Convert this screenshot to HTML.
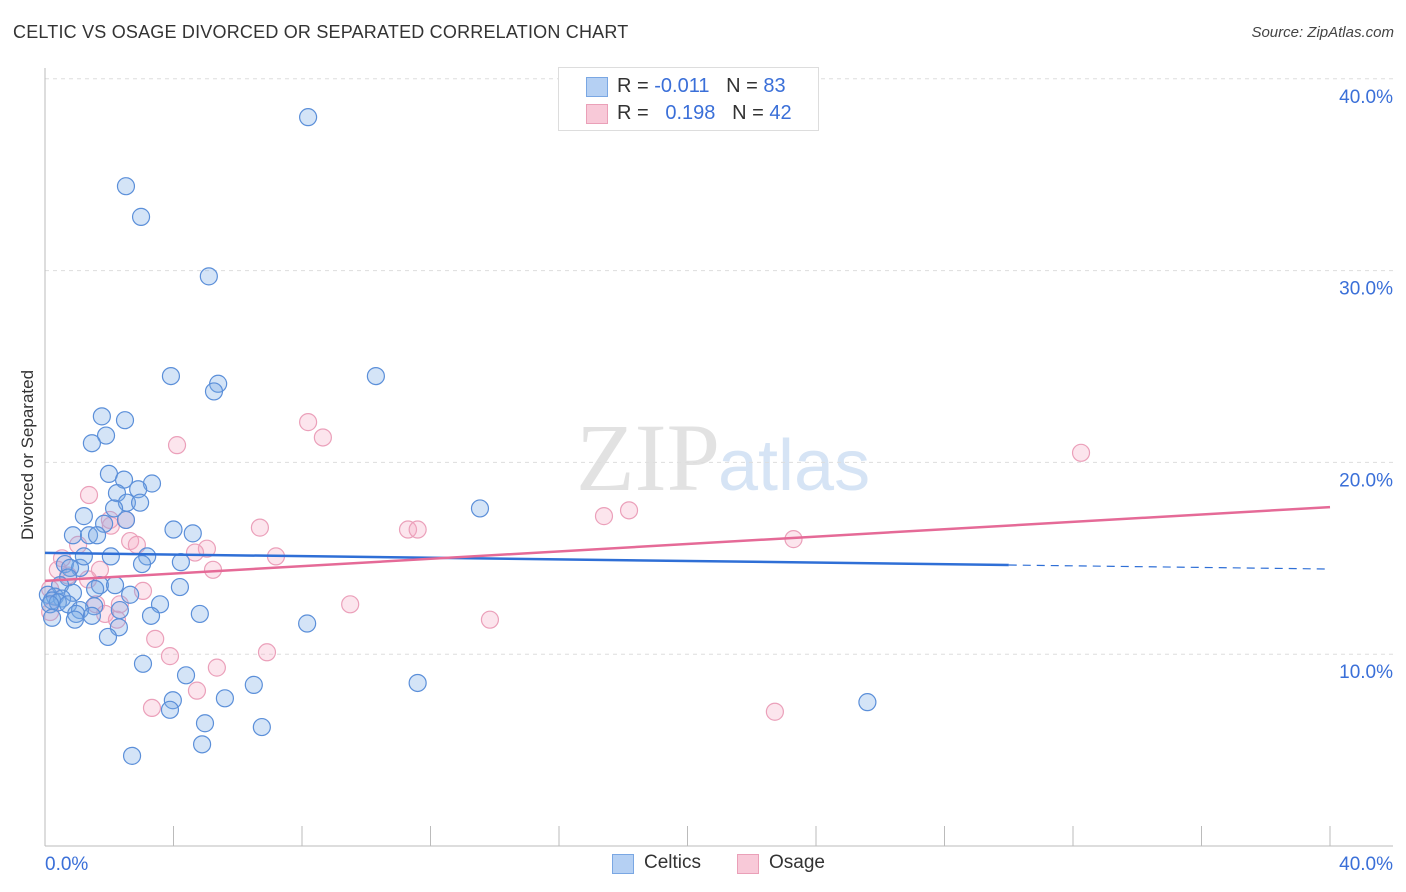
<!DOCTYPE html>
<html><head><meta charset="utf-8"><style>
body{margin:0;background:#fff;font-family:"Liberation Sans",sans-serif;}
#wrap{position:relative;width:1406px;height:892px;overflow:hidden;}
.t{position:absolute;white-space:nowrap;}
</style></head><body>
<div id="wrap">
<div class="t" style="left:13px;top:22px;font-size:18px;color:#333;letter-spacing:0.2px">CELTIC VS OSAGE DIVORCED OR SEPARATED CORRELATION CHART</div>
<div class="t" style="right:12px;top:24px;font-size:15px;color:#444;font-style:italic">Source: ZipAtlas.com</div>
<div class="t" style="left:28px;top:455px;font-size:17px;color:#333;transform:translate(-50%,-50%) rotate(-90deg)">Divorced or Separated</div>
<svg id="plot" width="1406" height="892" style="position:absolute;left:0;top:0">
<text x="720" y="490" text-anchor="end" font-family="Liberation Serif" font-size="96" fill="#e2e2e2">ZIP</text>
<text x="718" y="490" font-family="Liberation Sans" font-size="72" fill="#d6e4f5">atlas</text>
</svg>
<div style="position:absolute;left:558px;top:67px;width:259px;height:62px;border:1px solid #ddd;background:#fff;font-size:20px;">
<div style="position:absolute;left:27px;top:9px;width:20px;height:18px;background:#b5d0f3;border:1px solid #7aa7e3"></div>
<div class="t" style="left:58px;top:7px;color:#333">R = <span style="color:#3a6fd8">-0.011</span>&nbsp;&nbsp;&nbsp;N = <span style="color:#3a6fd8">83</span></div>
<div style="position:absolute;left:27px;top:36px;width:20px;height:18px;background:#f8c9d8;border:1px solid #eaa0b8"></div>
<div class="t" style="left:58px;top:34px;color:#333">R = &nbsp;&nbsp;<span style="color:#3a6fd8">0.198</span>&nbsp;&nbsp;&nbsp;N = <span style="color:#3a6fd8">42</span></div>
</div>
<div style="position:absolute;left:612px;top:852px;font-size:19px;color:#333">
<div style="position:absolute;left:0;top:2px;width:20px;height:18px;background:#b5d0f3;border:1px solid #7aa7e3"></div>
<div class="t" style="left:32px;top:0">Celtics</div>
<div style="position:absolute;left:125px;top:2px;width:20px;height:18px;background:#f8c9d8;border:1px solid #eaa0b8"></div>
<div class="t" style="left:157px;top:0">Osage</div>
</div>
</div>
<script>
const yTicks=[10,20,30,40];
const yTickLabels=["10.0%","20.0%","30.0%","40.0%"];
const xTickLabels=["0.0%","40.0%"];
const celticsX=[8.19,2.52,2.99,5.1,3.92,10.3,5.39,5.26,1.77,2.49,1.9,1.46,1.99,2.46,3.33,2.9,2.24,2.55,2.96,2.15,13.54,1.21,2.52,1.84,4.0,4.6,0.87,1.37,1.62,2.05,3.18,4.23,3.02,0.62,1.09,0.78,1.21,0.72,0.47,1.71,2.18,4.2,1.56,0.87,2.65,0.09,0.31,0.53,0.22,0.40,0.72,0.16,3.58,1.53,1.09,2.33,4.82,3.3,0.97,1.46,0.22,0.93,2.3,8.16,1.96,3.05,4.39,6.5,11.6,5.6,3.98,25.6,3.89,4.98,6.75,4.89,2.71];
const celticsY=[38.0,34.4,32.8,29.7,24.5,24.5,24.1,23.7,22.4,22.2,21.4,21.0,19.4,19.1,18.9,18.6,18.4,17.9,17.9,17.6,17.6,17.2,17.0,16.8,16.5,16.3,16.2,16.2,16.2,15.1,15.1,14.8,14.7,14.7,14.5,14.5,15.1,14.0,13.6,13.6,13.6,13.5,13.4,13.2,13.1,13.1,13.0,12.9,12.8,12.7,12.6,12.6,12.6,12.5,12.3,12.3,12.1,12.0,12.1,12.0,11.9,11.8,11.4,11.6,10.9,9.5,8.9,8.4,8.5,7.7,7.6,7.5,7.1,6.4,6.2,5.3,4.7];
const osageX=[8.19,8.65,4.11,32.25,1.37,2.52,2.05,18.18,17.4,6.69,11.3,11.6,23.3,2.65,2.86,1.03,5.04,4.67,0.53,7.19,1.71,5.23,0.4,0.72,0.16,3.05,1.59,2.33,9.5,0.16,1.87,2.24,13.85,3.43,3.89,6.91,5.35,4.73,3.33,22.72,2.02,1.34];
const osageY=[22.1,21.3,20.9,20.5,18.3,17.0,16.7,17.5,17.2,16.6,16.5,16.5,16.0,15.9,15.7,15.7,15.5,15.3,15.0,15.1,14.4,14.4,14.4,14.1,13.4,13.3,12.6,12.6,12.6,12.2,12.1,11.8,11.8,10.8,9.9,10.1,9.3,8.1,7.2,7.0,17.0,13.9];
const celticsTrend=[15.28,14.44];
const osageTrend=[13.82,17.67];
const NS="http://www.w3.org/2000/svg";
const svg=document.getElementById('plot');
const X=v=>45+v*32.125, Y=v=>846-v*19.18;
function mk(t,a){const e=document.createElementNS(NS,t);for(const k in a)e.setAttribute(k,a[k]);svg.appendChild(e);return e;}
yTicks.forEach((v,i)=>{
 const g=mk('line',{x1:45,x2:1393,y1:Y(v),y2:Y(v),stroke:'#ddd','stroke-dasharray':'4,4'});
 
 
 const t=mk('text',{x:1393,y:Y(v)+24,'text-anchor':'end','font-size':19,fill:'#3a6fd8','font-family':'Liberation Sans'});
 t.textContent=yTickLabels[i];
 
 
});
let a=mk('line',{x1:45,x2:45,y1:68,y2:846,stroke:'#bbb'});


a=mk('line',{x1:45,x2:1393,y1:846,y2:846,stroke:'#bbb'});


for(let i=1;i<=10;i++){const tk=mk('line',{x1:X(i*4),x2:X(i*4),y1:826,y2:846,stroke:'#bbb'});
 
 }
[[0,'start',45],[40,'end',1393]].forEach((d,i)=>{const t=mk('text',{x:d[2],y:870,'text-anchor':d[1],'font-size':19,fill:'#3a6fd8','font-family':'Liberation Sans'});
 t.textContent=xTickLabels[i];
 
 });
osageX.forEach((x,i)=>{const c=mk('circle',{cx:X(x),cy:Y(osageY[i]),r:8.5,fill:'rgba(244,170,195,0.3)',stroke:'#eba0ba','stroke-width':1.2});
 
 });
celticsX.forEach((x,i)=>{const c=mk('circle',{cx:X(x),cy:Y(celticsY[i]),r:8.5,fill:'rgba(120,170,230,0.32)',stroke:'#5b8fd9','stroke-width':1.2});
 
 });
const cy=x=>celticsTrend[0]+(celticsTrend[1]-celticsTrend[0])*x/40;
let l=mk('line',{x1:X(0),y1:Y(cy(0)),x2:X(30),y2:Y(cy(30)),stroke:'#2f6fd6','stroke-width':2.5});


l=mk('line',{x1:X(30),y1:Y(cy(30)),x2:X(40),y2:Y(cy(40)),stroke:'#2f6fd6','stroke-width':1.2,'stroke-dasharray':'8,6'});


l=mk('line',{x1:X(0),y1:Y(osageTrend[0]),x2:X(40),y2:Y(osageTrend[1]),stroke:'#e56a97','stroke-width':2.5});


</script>
</body></html>
